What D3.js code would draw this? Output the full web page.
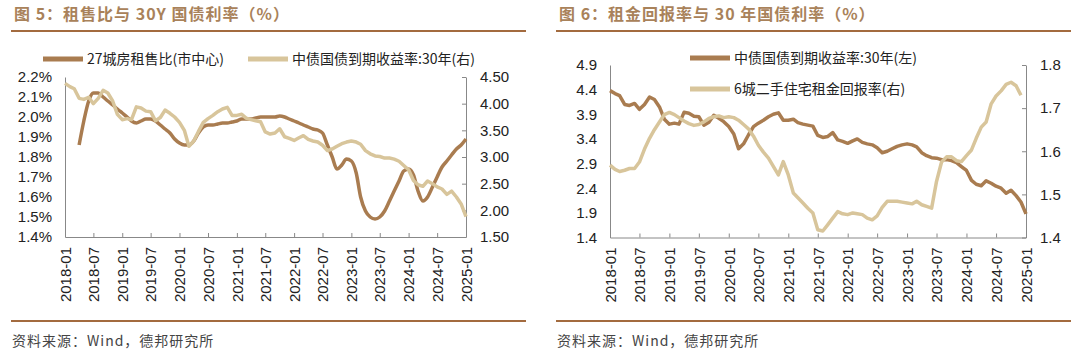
<!DOCTYPE html>
<html>
<head>
<meta charset="utf-8">
<script src="https://cdn.jsdelivr.net/npm/d3@7"></script>
<style>
    body { margin: 0; background: #fff; }
    svg text { font-family: "Liberation Sans", Arial, sans-serif; fill: #222; }
    svg .cjk { font-family: "Noto Sans CJK SC", sans-serif; }
</style>
</head>
<body>
<svg id="chart" width="1080" height="352"></svg>
<script>
// x tick labels, every 6 months
const tickLabels = ["2018-01", "2018-07", "2019-01", "2019-07", "2020-01", "2020-07", "2021-01",
    "2021-07", "2022-01", "2022-07", "2023-01", "2023-07", "2024-01", "2024-07", "2025-01"];

// 中债国债到期收益率:30年, monthly from 2018-01 to 2025-01
const yield30y = [4.38, 4.32, 4.28, 4.10, 4.08, 4.12, 4.00, 4.10, 4.25, 4.20,
    4.05, 3.80, 3.70, 3.72, 3.70, 3.94, 3.92, 3.86, 3.85, 3.68,
    3.74, 3.88, 3.82, 3.75, 3.65, 3.50, 3.20, 3.30, 3.48, 3.65,
    3.72, 3.78, 3.85, 3.90, 3.93, 3.78, 3.78, 3.80, 3.73, 3.70,
    3.68, 3.66, 3.47, 3.43, 3.45, 3.53, 3.38, 3.35, 3.31, 3.36,
    3.40, 3.33, 3.30, 3.28, 3.22, 3.12, 3.15, 3.20, 3.25, 3.28,
    3.30, 3.28, 3.24, 3.12, 3.06, 3.02, 3.01, 2.98, 2.98, 2.96,
    2.92, 2.84, 2.76, 2.56, 2.48, 2.45, 2.55, 2.50, 2.44, 2.40,
    2.30, 2.36, 2.25, 2.12, 1.88];

// 27城房租售比(市中心), %, monthly from 2018-04
const rentSaleStart = 3;
const rentSaleRatio = [1.86, 1.98, 2.08, 2.12, 2.12, 2.10, 2.08, 2.06, 2.04, 2.02,
    2.00, 1.98, 1.97, 1.98, 1.99, 1.99, 1.98, 1.96, 1.94, 1.92,
    1.89, 1.87, 1.86, 1.86, 1.88, 1.92, 1.95, 1.96, 1.96, 1.965,
    1.97, 1.97, 1.975, 1.98, 1.99, 1.99, 1.99, 1.995, 2.0, 2.0,
    2.0, 2.0, 2.005, 2.0, 1.99, 1.98, 1.97, 1.96, 1.95, 1.94,
    1.935, 1.92, 1.86, 1.80, 1.74, 1.76, 1.79, 1.78, 1.72, 1.60,
    1.53, 1.50, 1.49, 1.50, 1.53, 1.58, 1.63, 1.68, 1.73, 1.74,
    1.71, 1.63, 1.58, 1.60, 1.65, 1.70, 1.75, 1.78, 1.81, 1.84,
    1.86, 1.89];

// 6城二手住宅租金回报率, %, monthly from 2018-01
const rentYield6 = [1.568, 1.558, 1.553, 1.556, 1.560, 1.560, 1.575, 1.605, 1.630, 1.650,
    1.668, 1.685, 1.690, 1.685, 1.678, 1.670, 1.664, 1.660, 1.662, 1.668,
    1.676, 1.680, 1.682, 1.678, 1.680, 1.678, 1.672, 1.662, 1.652, 1.635,
    1.614, 1.598, 1.584, 1.565, 1.545, 1.576, 1.545, 1.503, 1.492, 1.480,
    1.468, 1.457, 1.418, 1.415, 1.430, 1.445, 1.460, 1.455, 1.453, 1.457,
    1.455, 1.453, 1.445, 1.441, 1.450, 1.470, 1.484, 1.484, 1.484, 1.482,
    1.480, 1.478, 1.484, 1.476, 1.472, 1.468, 1.530, 1.575, 1.587, 1.587,
    1.578, 1.576, 1.590, 1.603, 1.630, 1.656, 1.668, 1.710, 1.728, 1.740,
    1.755, 1.760, 1.752, 1.730];

const leftTicks1 = [1.4, 1.5, 1.6, 1.7, 1.8, 1.9, 2.0, 2.1, 2.2];
const rightTicks1 = [1.5, 2.0, 2.5, 3.0, 3.5, 4.0, 4.5];
const leftTicks2 = [1.4, 1.9, 2.4, 2.9, 3.4, 3.9, 4.4, 4.9];
const rightTicks2 = [1.4, 1.5, 1.6, 1.7, 1.8];

(function () {
    const svg = d3.select("#chart");
    const dark = "#a97c50";
    const tan = "#d8c59b";
    const base = new Date(2018, 0, 1);
    const monthDate = i => d3.timeMonth.offset(base, i);
    const parseTick = d3.timeParse("%Y-%m");

    function drawPanel(p) {
        const g = svg.append("g");

        // title and rules
        g.append("text")
            .attr("class", "cjk")
            .attr("x", p.titleX).attr("y", 20)
            .style("font-size", "16px").style("font-weight", "bold")
            .style("letter-spacing", "1px")
            .style("fill", "#a9825a")
            .text(p.title);
        [31, 321].forEach(y => g.append("line")
            .attr("x1", p.ruleX0).attr("x2", p.ruleX1)
            .attr("y1", y).attr("y2", y)
            .attr("stroke", "#a36b3f").attr("stroke-width", 2));
        g.append("text")
            .attr("class", "cjk")
            .attr("x", p.titleX - 2).attr("y", 346)
            .style("font-size", "14px").style("letter-spacing", "1px")
            .style("fill", "#444")
            .text("资料来源：Wind，德邦研究所");

        const x = d3.scaleTime()
            .domain([monthDate(0), monthDate(84)])
            .range([p.x0, p.x1]);
        const yL = d3.scaleLinear().domain(d3.extent(p.leftTicks)).range([p.y1, p.y0]);
        const yR = d3.scaleLinear().domain(d3.extent(p.rightTicks)).range([p.y1, p.y0]);

        // axes
        const xAxis = g.append("g")
            .attr("transform", `translate(0,${p.y1})`)
            .call(d3.axisBottom(x)
                .tickValues(tickLabels.map(parseTick))
                .tickSize(-4).tickSizeOuter(0)
                .tickFormat(d3.timeFormat("%Y-%m")));
        xAxis.selectAll("text")
            .attr("x", -10).attr("y", 0).attr("dy", "0.35em")
            .attr("transform", "rotate(-90)")
            .style("text-anchor", "end")
            .style("font-size", "15px");

        const yAxisL = g.append("g")
            .attr("transform", `translate(${p.x0},0)`)
            .call(d3.axisLeft(yL)
                .tickValues(p.leftTicks)
                .tickSize(0).tickPadding(13)
                .tickFormat(p.leftFormat));
        const yAxisR = g.append("g")
            .attr("transform", `translate(${p.x1},0)`)
            .call(d3.axisRight(yR)
                .tickValues(p.rightTicks)
                .tickSize(-4).tickSizeOuter(0).tickPadding(14)
                .tickFormat(p.rightFormat));

        [xAxis, yAxisL, yAxisR].forEach(a => {
            a.selectAll("path, line").attr("stroke", "#888");
            a.selectAll("text").style("fill", "#222");
        });
        yAxisL.selectAll("text").style("font-size", "15px");
        yAxisR.selectAll("text").style("font-size", "15px");

        // series
        p.series.forEach(s => {
            const y = s.axis === "left" ? yL : yR;
            const line = d3.line()
                .x((d, i) => x(monthDate(i + s.start)))
                .y(d => y(d))
                .curve(s.curve || d3.curveLinear);
            g.append("path")
                .datum(s.values)
                .attr("fill", "none")
                .attr("stroke", s.color)
                .attr("stroke-width", 3.5)
                .attr("stroke-linejoin", "round")
                .attr("d", line);
        });

        // legend
        p.series.forEach(s => {
            g.append("line")
                .attr("x1", s.lx).attr("x2", s.lx + 40)
                .attr("y1", s.ly).attr("y2", s.ly)
                .attr("stroke", s.color).attr("stroke-width", 5);
            g.append("text")
                .attr("class", "cjk")
                .attr("x", s.lx + 44).attr("y", s.ly)
                .attr("dy", "0.35em")
                .style("font-size", "14px")
                .text(s.name);
        });
    }

    drawPanel({
        title: "图 5：租售比与 30Y 国债利率（%）",
        titleX: 14, ruleX0: 11, ruleX1: 526,
        x0: 65, x1: 466, y0: 77, y1: 237,
        leftTicks: leftTicks1, rightTicks: rightTicks1,
        leftFormat: d => d.toFixed(1) + "%",
        rightFormat: d => d.toFixed(2),
        series: [
            { name: "27城房租售比(市中心)", values: rentSaleRatio, start: rentSaleStart,
              axis: "left", color: dark, curve: d3.curveMonotoneX, lx: 43, ly: 59 },
            { name: "中债国债到期收益率:30年(右)", values: yield30y, start: 0,
              axis: "right", color: tan, lx: 248, ly: 59 }
        ]
    });

    drawPanel({
        title: "图 6：租金回报率与 30 年国债利率（%）",
        titleX: 559, ruleX0: 556, ruleX1: 1071,
        x0: 610, x1: 1026, y0: 65, y1: 237.5,
        leftTicks: leftTicks2, rightTicks: rightTicks2,
        leftFormat: d => d.toFixed(1),
        rightFormat: d => d.toFixed(1),
        series: [
            { name: "中债国债到期收益率:30年(左)", values: yield30y, start: 0,
              axis: "left", color: dark, lx: 690, ly: 58 },
            { name: "6城二手住宅租金回报率(右)", values: rentYield6, start: 0,
              axis: "right", color: tan, lx: 690, ly: 89 }
        ]
    });
})();
</script>
</body>
</html>
